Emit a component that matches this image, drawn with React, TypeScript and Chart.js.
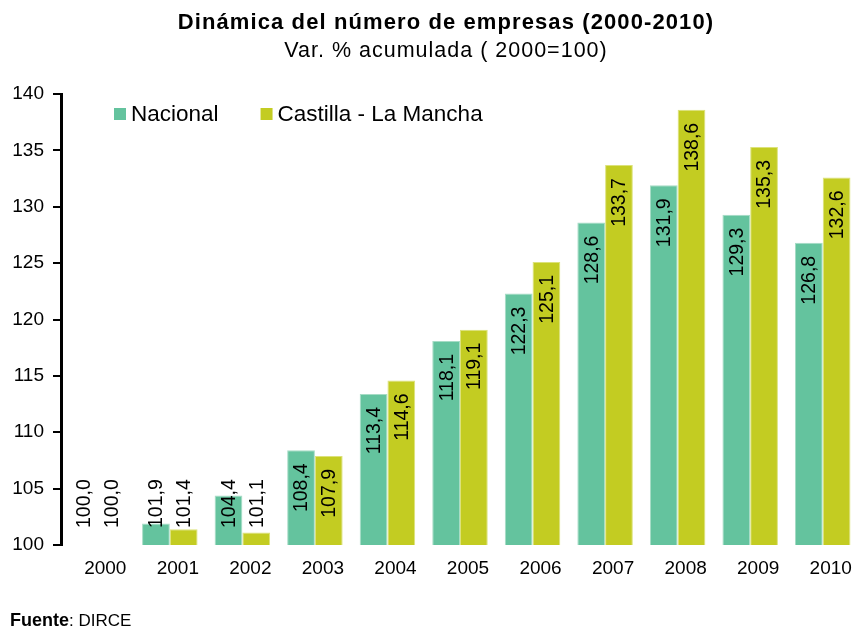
import React, { useEffect, useRef } from "react";
import { Chart, registerables } from "chart.js";

Chart.register(...registerables);

const years = ["2000", "2001", "2002", "2003", "2004", "2005", "2006", "2007", "2008", "2009", "2010"];
const nacional = [100.0, 101.9, 104.4, 108.4, 113.4, 118.1, 122.3, 128.6, 131.9, 129.3, 126.8];
const castillaLaMancha = [100.0, 101.4, 101.1, 107.9, 114.6, 119.1, 125.1, 133.7, 138.6, 135.3, 132.6];
const seriesNames = ["Nacional", "Castilla - La Mancha"];
const yMin = 100;
const yMax = 140;
const yStep = 5;
const titleText = "Dinámica del número de empresas (2000-2010)";
const subtitleText = "Var. % acumulada ( 2000=100)";
const sourceLabel = "Fuente";
const sourceText = ": DIRCE";

const FONT = "'Liberation Sans', Arial, Helvetica, sans-serif";
const GREEN = "#64C39E";
const GREEN_EDGE = "#A6DCC5";
const LIME = "#C3CC22";
const LIME_EDGE = "#DCE27A";

const textPlugin = {
  id: "customText",
  afterDraw(chart: any) {
    const ctx = chart.ctx as CanvasRenderingContext2D;
    const area = chart.chartArea;
    ctx.save();
    ctx.fillStyle = "#000";
    ctx.textAlign = "center";
    ctx.textBaseline = "middle";
    (ctx as any).letterSpacing = "1.1px";
    ctx.font = `bold 22px ${FONT}`;
    ctx.fillText(titleText, 446, 23);
    (ctx as any).letterSpacing = "1px";
    ctx.font = `21.5px ${FONT}`;
    ctx.fillText(subtitleText, 446, 51);
    (ctx as any).letterSpacing = "0px";

    // legend inside plot area
    ctx.textAlign = "left";
    ctx.font = `22.5px ${FONT}`;
    let x = area.left + 53;
    const cy = 114;
    chart.data.datasets.forEach((ds: any) => {
      ctx.fillStyle = ds.backgroundColor;
      ctx.fillRect(x, cy - 6, 12, 12);
      ctx.fillStyle = "#000";
      ctx.fillText(ds.label, x + 17, cy + 1);
      x += 17 + ctx.measureText(ds.label).width + 42;
    });

    // source
    ctx.textBaseline = "alphabetic";
    ctx.font = `bold 18px ${FONT}`;
    ctx.fillText(sourceLabel, 10, 626);
    const w = ctx.measureText(sourceLabel).width;
    ctx.font = `17px ${FONT}`;
    ctx.fillText(sourceText, 10 + w, 626);
    ctx.restore();
  },
};

const barLabelPlugin = {
  id: "barLabels",
  afterDatasetsDraw(chart: any) {
    const ctx = chart.ctx as CanvasRenderingContext2D;
    const basePx = chart.scales.y.getPixelForValue(yMin);
    ctx.save();
    ctx.font = `19.5px ${FONT}`;
    ctx.fillStyle = "#000";
    ctx.textAlign = "left";
    ctx.textBaseline = "middle";
    chart.data.datasets.forEach((ds: any, i: number) => {
      const meta = chart.getDatasetMeta(i);
      meta.data.forEach((bar: any, j: number) => {
        const v = ds.data[j] as number;
        const txt = v.toFixed(1).replace(".", ",");
        const w = ctx.measureText(txt).width;
        let bottom = bar.y + 13 + w;
        if (bottom > basePx - 17) bottom = basePx - 17;
        ctx.save();
        ctx.translate(bar.x + 1, bottom);
        ctx.rotate(-Math.PI / 2);
        ctx.fillText(txt, 0, 0);
        ctx.restore();
      });
    });
    ctx.restore();
  },
};

export default function App() {
  const ref = useRef<HTMLCanvasElement | null>(null);
  useEffect(() => {
    if (!ref.current) return;
    const chart = new Chart(ref.current, {
      type: "bar",
      data: {
        labels: years,
        datasets: [
          {
            label: seriesNames[0],
            data: nacional,
            backgroundColor: GREEN,
            borderColor: GREEN_EDGE,
            borderWidth: (c: any) => (c.raw === yMin ? 0 : 1),
          },
          {
            label: seriesNames[1],
            data: castillaLaMancha,
            backgroundColor: LIME,
            borderColor: LIME_EDGE,
            borderWidth: (c: any) => (c.raw === yMin ? 0 : 1),
          },
        ],
      },
      options: {
        responsive: false,
        animation: false,
        maintainAspectRatio: false,
        layout: { padding: { top: 94, left: 0, right: 0, bottom: 0 } },
        datasets: { bar: { categoryPercentage: 0.765, barPercentage: 1.0 } },
        plugins: {
          legend: { display: false },
          title: { display: false },
          tooltip: { enabled: false },
        },
        scales: {
          x: {
            grid: { display: false, drawTicks: false },
            border: { display: false },
            ticks: {
              color: "#000",
              font: { family: FONT, size: 19 },
              padding: 12,
              labelOffset: 8,
              maxRotation: 0,
              autoSkip: false,
            },
            afterFit: (s: any) => {
              s.height = 84;
            },
          },
          y: {
            min: yMin,
            max: yMax,
            grid: {
              display: true,
              drawOnChartArea: false,
              drawTicks: true,
              tickLength: 8,
              color: "#000",
              lineWidth: 2,
            },
            border: { display: true, color: "#000", width: 3 },
            ticks: {
              stepSize: yStep,
              color: "#000",
              font: { family: FONT, size: 19 },
              padding: 9,
            },
            afterFit: (s: any) => {
              s.width = 61;
            },
          },
        },
      },
      plugins: [barLabelPlugin, textPlugin],
    } as any);
    return () => chart.destroy();
  }, []);
  return (
    <div style={{ position: "fixed", left: 0, top: 0, width: 859, height: 629, background: "#fff" }}>
      <canvas ref={ref} width={859} height={629} style={{ display: "block" }} />
    </div>
  );
}
